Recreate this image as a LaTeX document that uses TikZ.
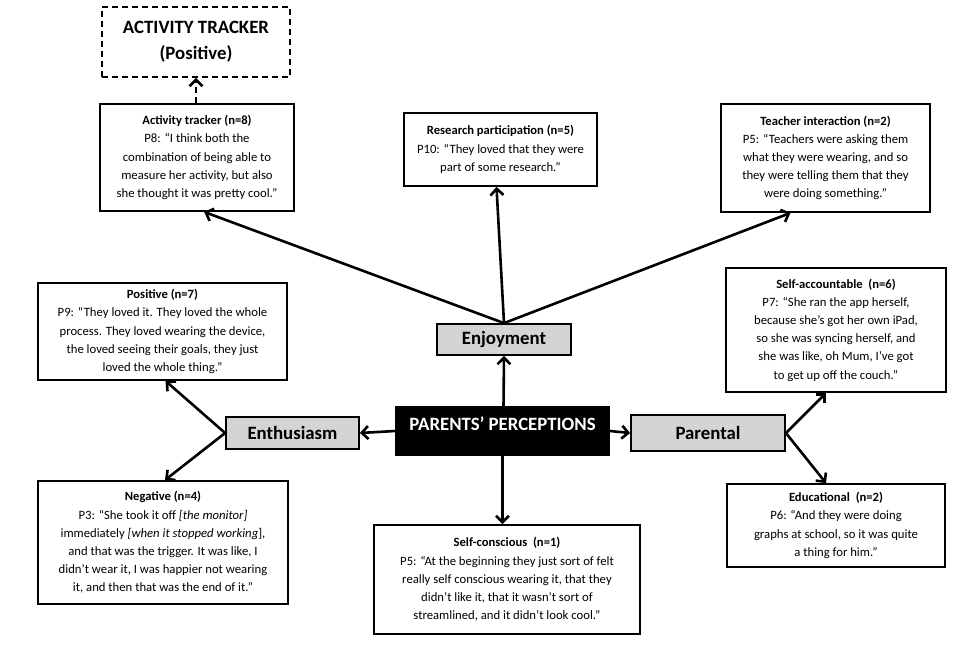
\documentclass[tikz,border=0pt]{standalone}
\usepackage{fontspec}
\setmainfont{Carlito}
\usetikzlibrary{arrows.meta}
\tikzset{
  qbox/.style={draw, line width=1.8pt, fill=white, align=center, inner sep=0pt,
    font=\fontsize{12.7}{18.2}\selectfont},
  gbox/.style={draw, line width=1.8pt, fill=black!17, align=center, inner sep=0pt,
    font=\fontsize{18.8}{22}\selectfont\bfseries},
  ldash/.style={dash pattern=on 6pt off 4pt},
  conn/.style={line width=2.6pt, -{Straight Barb[length=6.5pt,width=13pt,line width=2.6pt]}},
}
\newcommand\hd[1]{{\bfseries\fontsize{12.6}{18.2}\selectfont #1}}
\begin{document}
\begin{tikzpicture}[x=1pt,y=-1pt]
\useasboundingbox[fill=white] (0,0) rectangle (960,645);

% top-level nodes
\node[qbox, ldash, minimum width=188, minimum height=70,
  font=\fontsize{18.8}{26}\selectfont\bfseries] (atk) at (196,42) {ACTIVITY TRACKER\\(Positive)};

\node[qbox, minimum width=194, minimum height=107] (act) at (197,157.5)
  {\hd{Activity tracker (n=8)}\\P8: “I think both the\\combination of being able to\\measure her activity, but also\\she thought it was pretty cool.”};

\node[qbox, minimum width=193, minimum height=73] (res) at (500.5,149.5)
  {\hd{Research participation\ (n=5)}\\P10: “They\ loved that they were\\part of some research.”};

\node[qbox, minimum width=209, minimum height=108] (tea) at (825.5,158)
  {\hd{Teacher interaction (n=2)}\\P5: “Teachers were asking them\\what they were wearing, and so\\they were telling them that they\\were doing something.”};

\node[qbox, minimum width=249, minimum height=97] (pos) at (162.5,331.5)
  {\hd{Positive (n=7)}\\P9: “They loved it. They loved the whole\\process. They loved wearing the device,\\the loved seeing their goals, they just\\loved the whole thing.”};

\node[gbox, minimum width=134, minimum height=31] (enj) at (504,339.5) {Enjoyment};
\node[gbox, minimum width=133, minimum height=32] (ent) at (292.5,433) {Enthusiasm};
\node[gbox, minimum width=154, minimum height=36] (par) at (708,433) {Parental};

\node[draw, line width=1.8pt, fill=black, text=white, minimum width=213, minimum height=48,
  inner sep=0pt, font=\fontsize{18.8}{22}\selectfont\bfseries] (pp) at (502.5,431)
  {\raisebox{14pt}{PARENTS’ PERCEPTIONS}};

\node[qbox, minimum width=220, minimum height=124] (sac) at (836,330)
  {\hd{Self-accountable\ \ (n=6)}\\P7: “She ran the app herself,\\because she’s got her own iPad,\\so she was syncing herself, and\\she was like, oh Mum,\ I’ve got\\to get up off the couch.”};

\node[qbox, minimum width=250, minimum height=123] (neg) at (163,542.5)
  {\hd{Negative (n=4)}\\P3: “She took it off \textit{[the monitor]}\\immediately \textit{[when it stopped working}],\\and that was the trigger. It was like, I\\didn’t wear it, I was happier not wearing\\it, and then that was the end of it.”};

\node[qbox, minimum width=218, minimum height=83] (edu) at (836,525.5)
  {\hd{Educational\ \ (n=2)}\\P6: “And they were doing\\graphs at school, so it was quite\\a thing for him.”};

\node[qbox, minimum width=266, minimum height=109] (sco) at (507,579.5)
  {\hd{Self-conscious\ \ (n=1)}\\P5: “At the beginning they just sort of felt\\really self conscious wearing it, that they\\didn’t like it, that it wasn’t sort of\\streamlined, and it didn’t look cool.”};

% connectors
\draw[conn, ldash] (act.north -| atk.south) -- (atk.south);
\draw[conn] (enj.north) -- ([xshift=105pt]act.south west);
\draw[conn] (enj.north) -- ([xshift=-4pt]res.south);
\draw[conn] (enj.north) -- ([xshift=-35pt]tea.south);
\draw[conn] ([xshift=1pt]pp.north) -- (enj.south);
\draw[conn] (pp.west) -- (ent.east);
\draw[conn] (pp.east) -- (par.east -| par.west);
\draw[conn] (pp.south) -- (pp.south |- sco.north);
\draw[conn] (ent.west) -- ([xshift=3pt]pos.south);
\draw[conn] (ent.west) -- ([xshift=2pt]neg.north);
\draw[conn] (par.east) -- ([xshift=-10pt]sac.south);
\draw[conn] (par.east) -- ([xshift=-10pt]edu.north);
\end{tikzpicture}
\end{document}
